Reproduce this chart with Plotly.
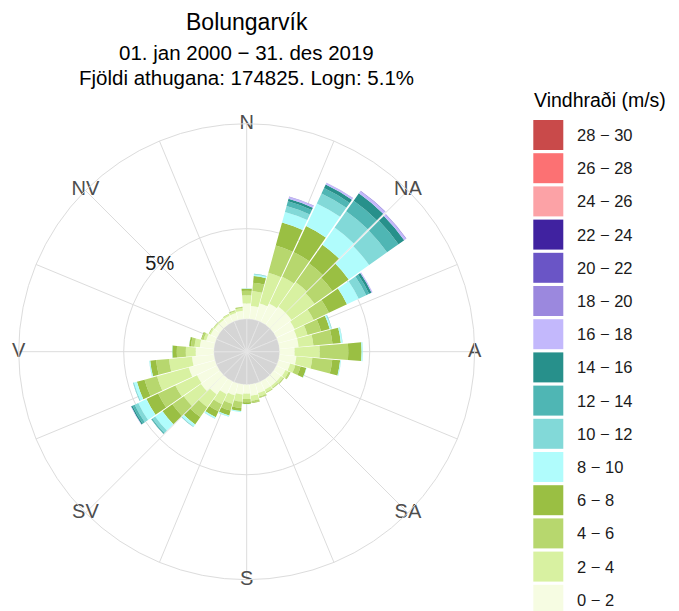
import plotly.graph_objects as go

# ---------------- data ----------------
station = "Bolungarvík"
period = "01. jan 2000 − 31. des 2019"
n_obs = 174825
calm_pct = 5.1

directions = list(range(0, 360, 10))

speed_labels = ["0 − 2", "2 − 4", "4 − 6", "6 − 8", "8 − 10", "10 − 12", "12 − 14",
                "14 − 16", "16 − 18", "18 − 20", "20 − 22", "22 − 24", "24 − 26",
                "26 − 28", "28 − 30"]
speed_colors = ["#F6FCE2", "#D8F1A1", "#B7D76E", "#9ABF43", "#B0FCFC", "#82D9D8",
                "#4FB6B4", "#27908B", "#C3B8FC", "#9B88DE", "#6A55C6", "#4022A0",
                "#FCA2A6", "#FC7173", "#C94A4A"]

# frequency (%) per direction bin (0, 10, ..., 350 degrees) for each speed class
s00_02 = [0.85, 0.72, 0.94, 1.11, 1.22, 1.22, 1.11, 1.06, 1.06, 0.83, 0.94, 0.67,
          0.55, 0.50, 0.50, 0.50, 0.55, 0.62, 0.50, 0.56, 0.67, 0.78, 1.06, 1.28,
          1.22, 1.50, 1.22, 1.00, 0.78, 0.50, 0.38, 0.35, 0.35, 0.38, 0.40, 0.45]
s02_04 = [0.45, 0.83, 1.78, 1.67, 1.67, 1.56, 1.17, 0.61, 0.83, 1.39, 0.89, 0.30,
          0.20, 0.15, 0.12, 0.15, 0.20, 0.28, 0.30, 0.39, 0.50, 0.61, 0.89, 1.17,
          1.33, 1.83, 1.28, 0.55, 0.30, 0.15, 0.08, 0.07, 0.07, 0.08, 0.10, 0.15]
s04_06 = [0.25, 0.47, 1.56, 1.50, 1.28, 1.22, 0.94, 0.78, 1.06, 1.59, 1.11, 0.30,
          0.08, 0.05, 0.04, 0.05, 0.06, 0.10, 0.17, 0.36, 0.39, 0.44, 0.67, 0.78,
          1.06, 0.72, 0.72, 0.50, 0.20, 0.10, 0.03, 0.02, 0.02, 0.03, 0.04, 0.06]
s06_08 = [0.12, 0.37, 1.33, 1.61, 1.28, 1.11, 1.11, 0.50, 0.47, 0.74, 0.44, 0.33,
          0.03, 0.01, 0.01, 0.01, 0.02, 0.03, 0.10, 0.17, 0.28, 0.36, 0.50, 0.67,
          0.72, 0.44, 0.33, 0.25, 0.10, 0.04, 0.01, 0.01, 0.00, 0.00, 0.01, 0.02]
s08_10 = [0.02, 0.08, 0.61, 1.39, 1.17, 1.39, 0.72, 0.08, 0.08, 0.06, 0.04, 0.02,
          0.00, 0.00, 0.00, 0.00, 0.00, 0.00, 0.01, 0.06, 0.06, 0.08, 0.14, 0.50,
          0.50, 0.17, 0.05, 0.02, 0.01, 0.00, 0.00, 0.00, 0.00, 0.00, 0.00, 0.00]
s10_12 = [0.00, 0.03, 0.34, 0.61, 1.11, 1.22, 0.46, 0.03, 0.02, 0.01, 0.01, 0.00,
          0.00, 0.00, 0.00, 0.00, 0.00, 0.00, 0.00, 0.01, 0.01, 0.02, 0.03, 0.19,
          0.22, 0.05, 0.01, 0.00, 0.00, 0.00, 0.00, 0.00, 0.00, 0.00, 0.00, 0.00]
s12_14 = [0.00, 0.01, 0.27, 0.33, 0.72, 0.78, 0.18, 0.01, 0.00, 0.00, 0.00, 0.00,
          0.00, 0.00, 0.00, 0.00, 0.00, 0.00, 0.00, 0.00, 0.00, 0.00, 0.01, 0.06,
          0.14, 0.01, 0.00, 0.00, 0.00, 0.00, 0.00, 0.00, 0.00, 0.00, 0.00, 0.00]
s14_16 = [0.00, 0.00, 0.14, 0.22, 0.50, 0.39, 0.15, 0.00, 0.00, 0.00, 0.00, 0.00,
          0.00, 0.00, 0.00, 0.00, 0.00, 0.00, 0.00, 0.00, 0.00, 0.00, 0.00, 0.02,
          0.08, 0.00, 0.00, 0.00, 0.00, 0.00, 0.00, 0.00, 0.00, 0.00, 0.00, 0.00]
s16_18 = [0.00, 0.00, 0.10, 0.09, 0.14, 0.12, 0.05, 0.00, 0.00, 0.00, 0.00, 0.00,
          0.00, 0.00, 0.00, 0.00, 0.00, 0.00, 0.00, 0.00, 0.00, 0.00, 0.00, 0.00,
          0.02, 0.00, 0.00, 0.00, 0.00, 0.00, 0.00, 0.00, 0.00, 0.00, 0.00, 0.00]
s18_20 = [0.00, 0.00, 0.03, 0.02, 0.04, 0.03, 0.01, 0.00, 0.00, 0.00, 0.00, 0.00,
          0.00, 0.00, 0.00, 0.00, 0.00, 0.00, 0.00, 0.00, 0.00, 0.00, 0.00, 0.00,
          0.00, 0.00, 0.00, 0.00, 0.00, 0.00, 0.00, 0.00, 0.00, 0.00, 0.00, 0.00]
zeros = [0.0] * 36
speed_values = [s00_02, s02_04, s04_06, s06_08, s08_10, s10_12, s12_14, s14_16,
                s16_18, s18_20, zeros, zeros, zeros, zeros, zeros]

compass_labels = ["N", "NA", "A", "SA", "S", "SV", "V", "NV"]
compass_angles = [0, 45, 90, 135, 180, 225, 270, 315]
ring_value = 5

# ---------------- layout constants ----------------
# the page body has an 8px margin, so the figure is drawn 8px in from the window edge
OFF = 8
W, H = 679 - OFF, 611 - OFF
FONT = "Liberation Sans, Arial, sans-serif"
r_min = -1.8333   # size of calm disk in radial units
r_max = 10.8333
cx, cy, R = 246.7, 351.7, 228.0   # window pixel coordinates


def px(x):
    return (x - OFF) / W


def py(y):
    return 1 - (y - OFF) / H


fig = go.Figure()

# calm disk
disk_theta = [11.25 + 22.5 * k for k in range(16)]
fig.add_trace(go.Barpolar(
    theta=disk_theta, r=[0 - r_min] * 16, base=[r_min] * 16, width=[22.5] * 16,
    marker=dict(color="#D5D5D5", line=dict(color="#E6E6E6", width=0.8)),
    showlegend=False, hoverinfo="skip"))

# stacked wind bars
cum = [0.0] * 36
for lab, col, vals in zip(speed_labels, speed_colors, speed_values):
    if sum(vals) <= 0:
        continue
    fig.add_trace(go.Barpolar(
        theta=directions, r=vals, base=list(cum), width=[9.4] * 36,
        marker=dict(color=col, line=dict(width=0)),
        name=lab, showlegend=False))
    cum = [c + v for c, v in zip(cum, vals)]

# compass labels on outer circle
fig.add_trace(go.Scatterpolar(
    r=[r_max] * len(compass_labels), theta=compass_angles, mode="text",
    text=compass_labels, textposition="middle center",
    textfont=dict(family=FONT, size=20, color="#4D4D4D"),
    cliponaxis=False, showlegend=False, hoverinfo="skip"))

# ring label
fig.add_trace(go.Scatterpolar(
    r=[ring_value], theta=[315], mode="text", text=[f"{ring_value}%"],
    textposition="middle center",
    textfont=dict(family=FONT, size=20, color="#1A1A1A"),
    cliponaxis=False, showlegend=False, hoverinfo="skip"))

grid_col = "#DCDCDC"
fig.update_layout(
    width=W, height=H, margin=dict(l=0, r=0, t=0, b=0),
    paper_bgcolor="white", plot_bgcolor="white",
    font=dict(family=FONT, color="#1A1A1A"),
    showlegend=False,
    polar=dict(
        domain=dict(x=[px(cx - R), px(cx + R)], y=[py(cy + R), py(cy - R)]),
        bgcolor="white",
        barmode="overlay",
        radialaxis=dict(range=[r_min, r_max], tickmode="array", tickvals=[ring_value],
                        showticklabels=False, ticks="", showline=False,
                        gridcolor=grid_col, gridwidth=1),
        angularaxis=dict(direction="clockwise", rotation=90, tickmode="array",
                         tickvals=[22.5 * k for k in range(16)], showticklabels=False,
                         ticks="", showline=True, linecolor=grid_col, linewidth=1,
                         gridcolor=grid_col, gridwidth=1),
    ),
)

annotations = [
    dict(text=station, x=px(cx), y=py(22), size=23),
    dict(text=period, x=px(cx), y=py(53), size=20.5),
    dict(text=f"Fjöldi athugana: {n_obs}. Logn: {calm_pct}%", x=px(cx), y=py(77), size=20.5),
]
for a in annotations:
    fig.add_annotation(text=a["text"], x=a["x"], y=a["y"], xref="paper", yref="paper",
                       xanchor="center", yanchor="middle", showarrow=False,
                       font=dict(family=FONT, size=a["size"], color="#000000"))

# manual legend
leg_x0, leg_top, sw, pitch = 533.3, 120.0, 30.0, 33.2
fig.add_annotation(text="Vindhraði (m/s)", x=px(532), y=py(100), xref="paper", yref="paper",
                   xanchor="left", yanchor="middle", showarrow=False,
                   font=dict(family=FONT, size=19.5, color="#000000"))
for i, (lab, col) in enumerate(zip(reversed(speed_labels), reversed(speed_colors))):
    top = leg_top + i * pitch
    fig.add_shape(type="rect", xref="paper", yref="paper",
                  x0=px(leg_x0), x1=px(leg_x0 + sw), y0=py(top + sw), y1=py(top),
                  fillcolor=col, line=dict(width=0))
    fig.add_annotation(text=lab, x=px(575), y=py(top + sw / 2), xref="paper", yref="paper",
                       xanchor="left", yanchor="middle", showarrow=False,
                       font=dict(family=FONT, size=16.5, color="#1A1A1A"))

fig.write_html("out.html")
